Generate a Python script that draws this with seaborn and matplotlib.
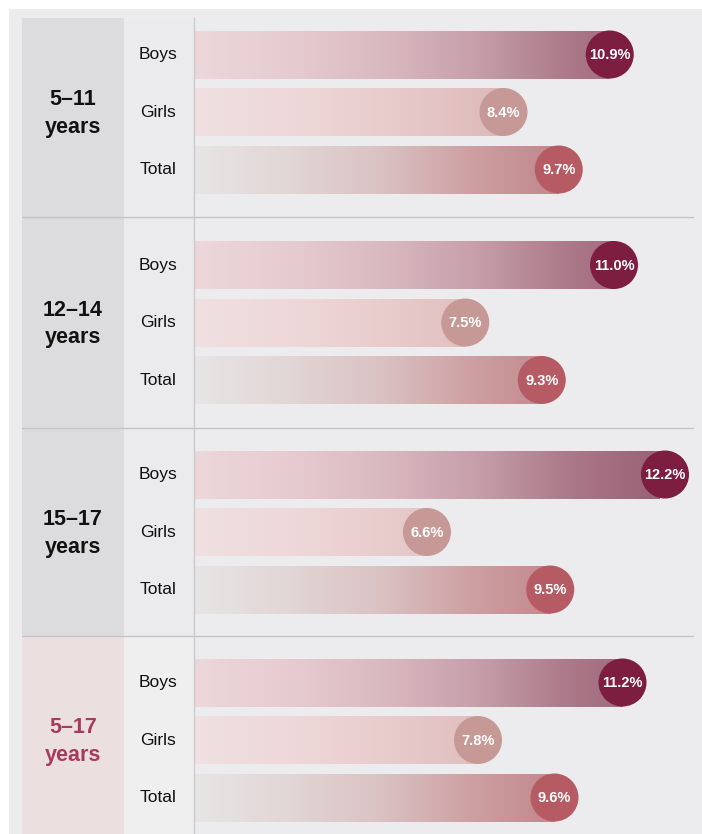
import numpy as np
import pandas as pd
import matplotlib
matplotlib.use("Agg")
import matplotlib.pyplot as plt
import seaborn as sns
from matplotlib.colors import LinearSegmentedColormap
from matplotlib.patches import Rectangle
from matplotlib.lines import Line2D

# ---------------- data ----------------
age_groups = ["5\u201311\nyears", "12\u201314\nyears", "15\u201317\nyears", "5\u201317\nyears"]
categories = ["Boys", "Girls", "Total"]
boys = [10.9, 11.0, 12.2, 11.2]
girls = [8.4, 7.5, 6.6, 7.8]
total = [9.7, 9.3, 9.5, 9.6]

# ---------------- layout ----------------
W, H, DPI = 702, 834, 100
TOP = 18
PX_ZERO = 146.5      # pixel where 0 % would be
PX_PER = 42.5        # pixels per percentage point
BAR_LEFT_PX = 194
group_centers = [112, 322.5, 532, 740]
row_offsets = [-57.5, 0, 57.5]
separators = [217, 428, 636]

rows = []
for gi, g in enumerate(age_groups):
    for ci, (c, vals) in enumerate(zip(categories, [boys, girls, total])):
        rows.append(dict(group=g, category=c, value=vals[gi],
                         ypos=group_centers[gi] + row_offsets[ci]))
df = pd.DataFrame(rows)

sns.set_theme(style="white")
plt.rcParams["font.family"] = ["Liberation Sans", "DejaVu Sans"]

fig = plt.figure(figsize=(W / DPI, H / DPI), dpi=DPI)
fig.patch.set_facecolor("white")
PANEL = "#ececee"
fig.add_artist(Rectangle((9 / W, 0), 1 - 9 / W, 1 - 9 / H, transform=fig.transFigure,
                         facecolor=PANEL, edgecolor="none", zorder=-10))

# label axes (pixel coords)
ax_lab = fig.add_axes([22 / W, 0, (BAR_LEFT_PX - 22) / W, (H - TOP) / H])
ax_lab.set_xlim(22, BAR_LEFT_PX)
ax_lab.set_ylim(H, TOP)
ax_lab.set_facecolor("none")
ax_lab.axis("off")

# bar axes
x_left = (BAR_LEFT_PX - PX_ZERO) / PX_PER
x_right = (W - PX_ZERO) / PX_PER
ax = fig.add_axes([BAR_LEFT_PX / W, 0, (W - BAR_LEFT_PX) / W, (H - TOP) / H])
ax.set_facecolor("none")

sns.barplot(data=df, x="value", y="ypos", orient="h", native_scale=True,
            width=48 / 57.5, color="#dddddd", ax=ax, errorbar=None, linewidth=0)
ax.set_xlim(x_left, x_right)
ax.set_ylim(H, TOP)
ax.axis("off")

grad_colors = {
    "Boys": ["#ecd7da", "#e6ccd0", "#dabac1", "#c7a0ab", "#ac7a8a", "#9a6074"],
    "Girls": ["#f0e0e1", "#eed8d9", "#e9cdcd", "#e0bebe", "#d6acad", "#cc9c9d"],
    "Total": ["#e7e5e5", "#e2d6d6", "#dac2c3", "#cd9fa2", "#c0848a", "#b26a72"],
}
circle_colors = {"Boys": "#7d1d40", "Girls": "#c69997", "Total": "#b65b64"}
grad_end = (660 - PX_ZERO) / PX_PER
ramp = np.linspace(0, 1, 256).reshape(1, -1)

patches = sorted(ax.patches, key=lambda p: p.get_y() + p.get_height() / 2)
df_sorted = df.sort_values("ypos").reset_index(drop=True)
for p, (_, r) in zip(patches, df_sorted.iterrows()):
    p.set_facecolor("none")
    cmap = LinearSegmentedColormap.from_list(r["category"], grad_colors[r["category"]])
    y0 = p.get_y()
    y1 = y0 + p.get_height()
    im = ax.imshow(ramp, cmap=cmap, aspect="auto", extent=(x_left, grad_end, y1, y0),
                   interpolation="bilinear", zorder=1)
    im.set_clip_path(p)

sns.scatterplot(data=df, x="value", y="ypos", hue="category", palette=circle_colors,
                s=(48 * 72 / DPI) ** 2, linewidth=0, legend=False, ax=ax, zorder=3,
                clip_on=False)
for _, r in df.iterrows():
    ax.text(r["value"], r["ypos"] + 0.5, f"{r['value']:.1f}%", ha="center", va="center",
            color="white", fontsize=10.5, fontweight="bold", zorder=4)
ax.set_xlim(x_left, x_right)
ax.set_ylim(H, TOP)

# left columns
gtops = [TOP] + separators
gbots = separators + [H]
for gi, g in enumerate(age_groups):
    last = gi == len(age_groups) - 1
    ax_lab.add_patch(Rectangle((22, gtops[gi]), 124 - 22, gbots[gi] - gtops[gi],
                               facecolor="#ecdfe0" if last else "#dcdcde",
                               edgecolor="none", zorder=0))
    ax_lab.add_patch(Rectangle((124, gtops[gi]), BAR_LEFT_PX - 124, gbots[gi] - gtops[gi],
                               facecolor="#efeff0" if last else "#ebebed",
                               edgecolor="none", zorder=0))
    ax_lab.text(73, group_centers[gi] + 1.5, g, ha="center", va="center", fontsize=15.5,
                fontweight="bold", color="#a63c5b" if last else "#111111",
                linespacing=1.42, zorder=2)
    for ci, c in enumerate(categories):
        ax_lab.text(158, group_centers[gi] + row_offsets[ci], c, ha="center",
                    va="center", fontsize=12.5, color="#111111", zorder=2)

for y in separators:
    ax_lab.plot([22, BAR_LEFT_PX], [y, y], color="#c4c4c6", lw=1, zorder=3)
    ax.plot([x_left, (693 - PX_ZERO) / PX_PER], [y, y], color="#c4c4c6", lw=1, zorder=0.5)
# vertical divider, drawn on top of everything
fig.add_artist(Line2D([193.5 / W, 193.5 / W], [0, 1 - TOP / H], transform=fig.transFigure,
                      color="#cbcbcd", lw=1, zorder=10))

fig.savefig("out.png", dpi=DPI)
